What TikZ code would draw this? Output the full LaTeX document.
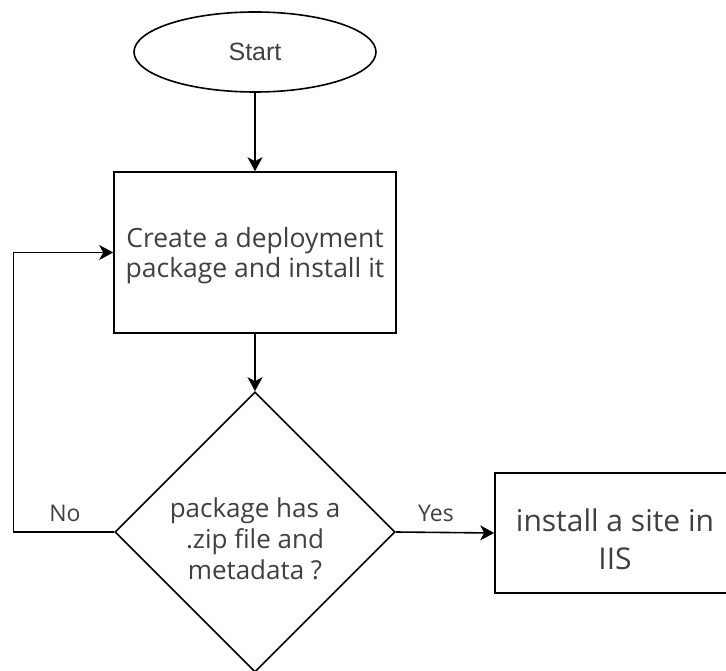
\documentclass[tikz,border=0pt]{standalone}
\usepackage{fontspec}
\setmainfont{Open Sans}
\newfontfamily\startfont{Liberation Sans}
\usetikzlibrary{shapes.geometric,arrows.meta}
\begin{document}
\begin{tikzpicture}[x=1pt,y=-1pt,
  line/.style={line width=1.6pt,draw=black},
  arr/.style={line,-{Stealth[length=14pt,width=15pt,inset=4pt]}},
  txt/.style={text=black!75,align=center,inner sep=0pt},
  ellbox/.style={line,ellipse,minimum width=242pt,minimum height=80pt,inner sep=0pt},
  procbox/.style={line,rectangle,inner sep=0pt},
  decbox/.style={line,diamond,minimum width=280pt,minimum height=280pt,inner sep=0pt},
  lbl/.style={txt,font=\fontsize{23}{26}\selectfont}
]
\clip (0,0) rectangle (726,671);
\fill[white] (0,0) rectangle (726,671);

\node[ellbox] (start) at (255,52) {};
\node[txt,font=\startfont\fontsize{25}{28}\selectfont] (starttxt) at (255,52) {Start};

\node[procbox,minimum width=282pt,minimum height=161pt] (create) at (255,252.5) {};
\node[txt,font=\fontsize{26.5}{30}\selectfont] (createtxt) at (255,256) {Create a deployment\\package and install it};

\node[decbox] (dec) at (255,532) {};
\node[txt,font=\fontsize{26}{31}\selectfont] (dectxt) at (255,539) {package has a\\.zip file and\\metadata ?};

\node[procbox,minimum width=240pt,minimum height=120pt] (site) at (615,533) {};
\node[txt,font=\fontsize{30}{38}\selectfont] (sitetxt) at (615,539) {install a site in\\IIS};

\coordinate (loop) at (13.5,532);

\draw[arr] (start.south) -- (create.north);
\draw[arr] (create.south) -- (dec.north);
\draw[arr] (dec.east) -- (site.west);
\draw[arr] (dec.west) -- (loop) |- (create.west);

\node[lbl] (yes) at (436,513) {Yes};
\node[lbl] (no) at (65,513) {No};
\end{tikzpicture}
\end{document}
